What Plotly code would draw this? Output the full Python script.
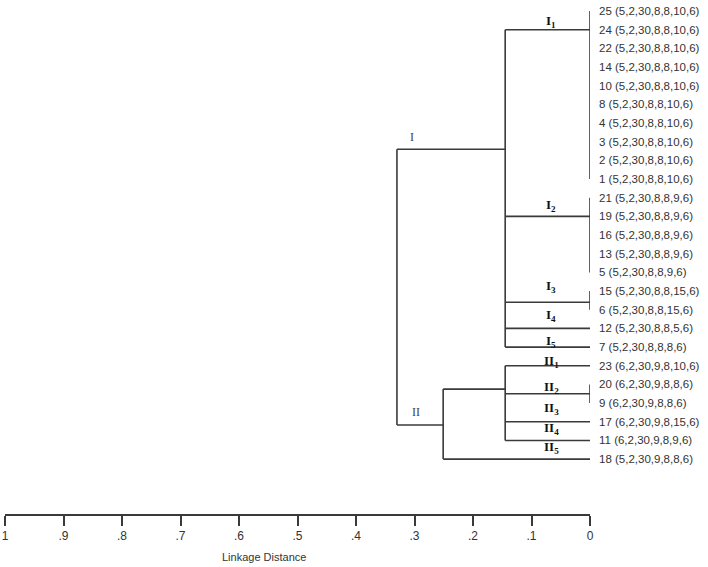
import plotly.graph_objects as go

# ---- data ----
leaf_ids = ["25", "24", "22", "14", "10", "8", "4", "3", "2", "1",
            "21", "19", "16", "13", "5", "15", "6", "12", "7",
            "23", "20", "9", "17", "11", "18"]
leaf_params = ["5,2,30,8,8,10,6", "5,2,30,8,8,10,6", "5,2,30,8,8,10,6", "5,2,30,8,8,10,6",
               "5,2,30,8,8,10,6", "5,2,30,8,8,10,6", "5,2,30,8,8,10,6", "5,2,30,8,8,10,6",
               "5,2,30,8,8,10,6", "5,2,30,8,8,10,6",
               "5,2,30,8,8,9,6", "5,2,30,8,8,9,6", "5,2,30,8,8,9,6", "5,2,30,8,8,9,6",
               "5,2,30,8,8,9,6",
               "5,2,30,8,8,15,6", "5,2,30,8,8,15,6",
               "5,2,30,8,8,5,6", "5,2,30,8,8,8,6",
               "6,2,30,9,8,10,6", "6,2,30,9,8,8,6", "6,2,30,9,8,8,6",
               "6,2,30,9,8,15,6", "6,2,30,9,8,9,6", "5,2,30,9,8,8,6"]

# internal nodes: name, linkage height, children (leaf positions or node names), attach row
node_names = ["g1", "g2", "g3", "g4", "I", "IIa", "II", "root"]
node_heights = [0.0, 0.0, 0.0, 0.0, 0.145, 0.145, 0.251, 0.33]
node_children = [
    [0, 1, 2, 3, 4, 5, 6, 7, 8, 9],
    [10, 11, 12, 13, 14],
    [15, 16],
    [20, 21],
    ["g1", "g2", "g3", 17, 18],
    [19, "g4", 22, 23],
    ["IIa", 24],
    ["I", "II"],
]
node_rows = [1.0, 11.0, 15.6, 20.5, 7.4, 20.25, 22.17, 14.8]

# cluster labels
main_labels = ["I", "II"]
main_label_x = [0.304, 0.297]
main_label_row = [6.75, 21.5]
sub_labels = ["I<sub>1</sub>", "I<sub>2</sub>", "I<sub>3</sub>", "I<sub>4</sub>", "I<sub>5</sub>",
              "II<sub>1</sub>", "II<sub>2</sub>", "II<sub>3</sub>", "II<sub>4</sub>", "II<sub>5</sub>"]
sub_label_x = [0.066] * 10
sub_label_row = [0.55, 10.4, 14.75, 16.3, 17.7, 18.75, 20.15, 21.27, 22.35, 23.4]

x_ticks = [1, 0.9, 0.8, 0.7, 0.6, 0.5, 0.4, 0.3, 0.2, 0.1, 0]
x_tick_text = ["1", ".9", ".8", ".7", ".6", ".5", ".4", ".3", ".2", ".1", "0"]

# ---- build segments ----
node_h = dict(zip(node_names, node_heights))
node_r = dict(zip(node_names, node_rows))

def child_pos(c):
    if isinstance(c, str):
        return node_h[c], node_r[c]
    return 0.0, float(c)

xs, ys = [], []
for name, h, ch in zip(node_names, node_heights, node_children):
    pts = [child_pos(c) for c in ch]
    rows = [p[1] for p in pts]
    xs += [h, h, None]
    ys += [min(rows), max(rows), None]
    for ch_h, ch_r in pts:
        if h - ch_h > 1e-9:
            xs += [ch_h, h, None]
            ys += [ch_r, ch_r, None]

line_col = "#3a3a3a"
fig = go.Figure()
fig.add_trace(go.Scatter(x=xs, y=ys, mode="lines",
                         line=dict(color=line_col, width=1.6),
                         hoverinfo="skip", showlegend=False))

for t, x, r in zip(main_labels, main_label_x, main_label_row):
    fig.add_annotation(x=x, y=r, text=t, showarrow=False,
                       font=dict(family="Liberation Serif", size=12, color="#444444"))
for t, x, r in zip(sub_labels, sub_label_x, sub_label_row):
    fig.add_annotation(x=x, y=r, text="<b>" + t + "</b>", showarrow=False,
                       font=dict(family="Liberation Serif", size=13, color="#111111"))

fig.add_annotation(xref="paper", yref="paper", x=0.443, y=-0.084,
                   text="Linkage Distance", showarrow=False, yanchor="middle",
                   font=dict(family="Liberation Sans", size=11, color="#333333"))

leaf_text = [f"{i} ({p})" for i, p in zip(leaf_ids, leaf_params)]

fig.update_layout(
    width=708, height=567,
    margin=dict(l=5, r=118, t=0, b=53),
    paper_bgcolor="white", plot_bgcolor="white",
    font=dict(family="Liberation Sans", size=11, color="#333333"),
    xaxis=dict(range=[1, 0], tickmode="array", tickvals=x_ticks, ticktext=x_tick_text,
               ticks="outside", ticklen=10, tickwidth=1.5, tickcolor=line_col,
               showline=True, linecolor=line_col, linewidth=1.5,
               showgrid=False, zeroline=False, automargin=False,
               tickfont=dict(family="Liberation Sans", size=12, color="#333333")),
    yaxis=dict(range=[26.94, -0.59], side="right", tickmode="array",
               tickvals=list(range(len(leaf_text))), ticktext=leaf_text,
               ticks="", showline=False, showgrid=False, zeroline=False,
               ticklabelstandoff=8, automargin=False,
               tickfont=dict(family="Liberation Sans", size=11.5, color="#333333")),
)

fig.write_html("out.html", config={"displayModeBar": False},
               post_script="document.body.style.margin='0';")
